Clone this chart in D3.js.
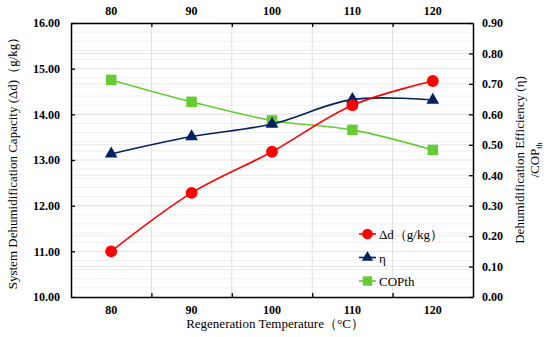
<!DOCTYPE html>
<html>
<head>
<meta charset="utf-8">
<script src="https://cdn.jsdelivr.net/npm/d3@7"></script>
<style>
body { margin: 0; background: #fff; }
text { font-family: "Liberation Serif", "Times New Roman", serif; }
</style>
</head>
<body>
<div class="container"></div>
<script>
var temps = [80, 90, 100, 110, 120];
var deltaD = [11.00, 12.28, 13.18, 14.20, 14.73];
var eta = [0.47, 0.527, 0.568, 0.649, 0.647];
var copTh = [0.713, 0.641, 0.580, 0.549, 0.483];
var leftTicks = [10, 11, 12, 13, 14, 15, 16];
var rightTicks = [0, 0.1, 0.2, 0.3, 0.4, 0.5, 0.6, 0.7, 0.8, 0.9];
var legendNames = ["\u0394d\uff08g/kg\uff09", "\u03b7", "COPth"];

var W = 550, H = 337;
var pLeft = 71, pRight = 473, pTop = 23, pBottom = 297;

var svg = d3.select(".container").append("svg")
	.attr("width", W).attr("height", H);

var x = d3.scaleLinear().domain([75, 125]).range([pLeft, pRight]);
var yL = d3.scaleLinear().domain([10, 16]).range([pBottom, pTop]);
var yR = d3.scaleLinear().domain([0, 0.9]).range([pBottom, pTop]);

// light grid
var grid = svg.append("g");
grid.selectAll(".minor").data(d3.range(10.2, 16, 0.2)).enter().append("line")
	.attr("x1", pLeft).attr("x2", pRight)
	.attr("y1", function (d) { return yL(d); }).attr("y2", function (d) { return yL(d); })
	.style("stroke", "#f0f0f0").style("stroke-width", 1);
grid.selectAll(".rmaj").data(rightTicks.slice(1, -1)).enter().append("line")
	.attr("x1", pLeft).attr("x2", pRight)
	.attr("y1", function (d) { return yR(d); }).attr("y2", function (d) { return yR(d); })
	.style("stroke", "#e6e6e6").style("stroke-width", 1);
grid.selectAll(".lmaj").data(leftTicks.slice(1, -1)).enter().append("line")
	.attr("x1", pLeft).attr("x2", pRight)
	.attr("y1", function (d) { return yL(d); }).attr("y2", function (d) { return yL(d); })
	.style("stroke", "#e6e6e6").style("stroke-width", 1);
grid.selectAll(".vert").data([85, 95, 105, 115]).enter().append("line")
	.attr("y1", pTop).attr("y2", pBottom)
	.attr("x1", function (d) { return x(d); }).attr("x2", function (d) { return x(d); })
	.style("stroke", "#e0e0e0").style("stroke-width", 1);

// axes (ticks inward)
function styleAxis(g) {
	g.select(".domain").style("stroke", "#000").style("stroke-width", 1.5);
	g.selectAll(".tick line").style("stroke", "#000").style("stroke-width", 1.3);
	g.selectAll("text").style("font-size", "12px").style("font-weight", "bold")
		.style("font-family", "Liberation Serif, serif").attr("fill", "#000");
}

var bx = svg.append("g").attr("transform", "translate(0," + pBottom + ")")
	.call(d3.axisBottom(x).tickValues([85, 95, 105, 115]).tickSizeInner(-4).tickSizeOuter(0).tickFormat(""));
styleAxis(bx);
var tx = svg.append("g").attr("transform", "translate(0," + pTop + ")")
	.call(d3.axisTop(x).tickValues([85, 95, 105, 115]).tickSizeInner(-4).tickSizeOuter(0).tickFormat(""));
styleAxis(tx);

// category labels at data positions
svg.append("g").selectAll("text").data(temps).enter().append("text")
	.attr("x", function (d) { return x(d); }).attr("y", 314)
	.attr("text-anchor", "middle").style("font-size", "12px").style("font-weight", "bold")
	.text(function (d) { return d; });
svg.append("g").selectAll("text").data(temps).enter().append("text")
	.attr("x", function (d) { return x(d); }).attr("y", 15)
	.attr("text-anchor", "middle").style("font-size", "12px").style("font-weight", "bold")
	.text(function (d) { return d; });

var ly = svg.append("g").attr("transform", "translate(" + pLeft + ",0)")
	.call(d3.axisLeft(yL).tickValues(leftTicks).tickSizeInner(-4).tickSizeOuter(0).tickPadding(11)
		.tickFormat(d3.format(".2f")));
styleAxis(ly);
var ry = svg.append("g").attr("transform", "translate(" + pRight + ",0)")
	.call(d3.axisRight(yR).tickValues(rightTicks).tickSizeInner(-4).tickSizeOuter(0).tickPadding(9)
		.tickFormat(d3.format(".2f")));
styleAxis(ry);

// axis titles
svg.append("text")
	.attr("transform", "translate(17," + ((pTop + pBottom) / 2) + ") rotate(-90)")
	.attr("text-anchor", "middle").style("font-size", "13px")
	.text("System Dehumidification Capacity (\u0394d)\uff08g/kg\uff09");
svg.append("text")
	.attr("x", 275).attr("y", 328)
	.attr("text-anchor", "middle").style("font-size", "13px")
	.text("Regeneration Temperature\uff08\u00b0C\uff09");
var rt = svg.append("text")
	.attr("transform", "translate(524," + ((pTop + pBottom) / 2) + ") rotate(-90)")
	.attr("text-anchor", "middle").style("font-size", "13px");
rt.append("tspan").attr("x", 0).attr("y", 0).text("Dehumidification Efficiency (\u03b7)");
rt.append("tspan").attr("x", 0).attr("y", 15).text("/COP");
rt.append("tspan").attr("dy", 3).style("font-size", "8px").text("th");

// series
var series = [
	{name: legendNames[0], vals: deltaD, y: yL, color: "#ff0000", shape: d3.symbolCircle, size: 110},
	{name: legendNames[1], vals: eta, y: yR, color: "#002060", shape: d3.symbolTriangle, size: 70},
	{name: legendNames[2], vals: copTh, y: yR, color: "#66cc33", shape: d3.symbolSquare, size: 110}
];

series.slice().reverse().forEach(function (s) {
	var pts = temps.map(function (t, i) { return [x(t), s.y(s.vals[i])]; });
	svg.append("path")
		.attr("d", d3.line().curve(d3.curveCatmullRom.alpha(0.5))(pts))
		.style("fill", "none").style("stroke", s.color).style("stroke-width", 1.6);
	svg.append("g").selectAll("path").data(pts).enter().append("path")
		.attr("transform", function (p) { return "translate(" + p[0] + "," + p[1] + ")"; })
		.attr("d", d3.symbol().type(s.shape).size(s.size))
		.style("fill", s.color);
});

// legend
var lg = svg.append("g");
series.forEach(function (s, i) {
	var yy = 234 + i * 23.5;
	lg.append("line").attr("x1", 359).attr("x2", 376).attr("y1", yy).attr("y2", yy)
		.style("stroke", s.color).style("stroke-width", 1.6);
	lg.append("path").attr("transform", "translate(367.5," + yy + ")")
		.attr("d", d3.symbol().type(s.shape).size(s.size * 0.8)).style("fill", s.color);
	lg.append("text").attr("x", 379).attr("y", yy + 5).style("font-size", "13px").text(s.name);
});
</script>
</body>
</html>
